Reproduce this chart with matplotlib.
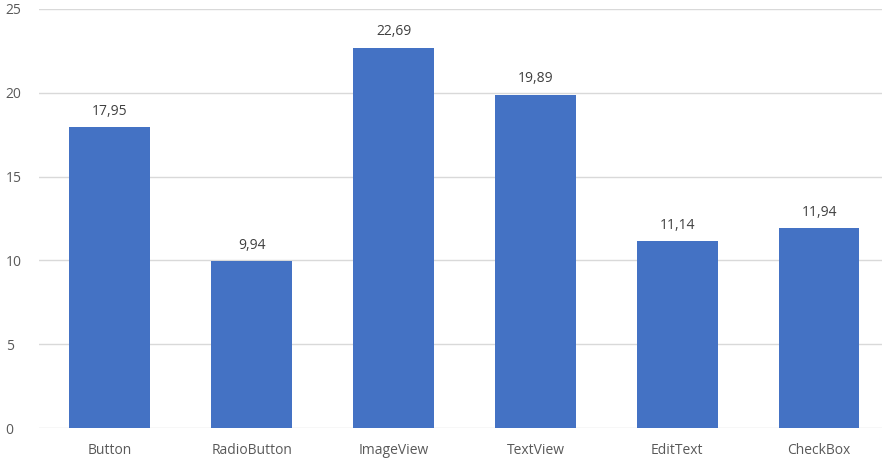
import matplotlib.pyplot as plt

categories = ["Button", "RadioButton", "ImageView", "TextView", "EditText", "CheckBox"]
values = [17.95, 9.94, 22.69, 19.89, 11.14, 11.94]
yticks = [0, 5, 10, 15, 20, 25]

plt.rcParams["font.family"] = ["Open Sans", "DejaVu Sans"]

fig = plt.figure(figsize=(8.82, 4.59), dpi=100)
ax = fig.add_axes([39 / 882, 1 - 428 / 459, 1 - 39 / 882, (428 - 9) / 459])

x = list(range(len(categories)))
bars = ax.bar(x, values, width=0.57, color="#4472C4", zorder=3)

for xi, v in zip(x, values):
    ax.annotate(f"{v:.2f}".replace(".", ","), (xi, v), xytext=(0, 6),
                textcoords="offset points", ha="center", va="bottom",
                fontsize=10, color="#404040")

ax.set_ylim(0, 25)
ax.set_xlim(-0.5, 5.5 - 8 / 142)
ax.set_yticks(yticks)
ax.set_xticks(x)
ax.set_xticklabels(categories)
ax.yaxis.grid(True, color="#D9D9D9", linewidth=1, zorder=0)
for s in ax.spines.values():
    s.set_visible(False)
ax.tick_params(axis="both", length=0, labelsize=10, labelcolor="#595959")
ax.tick_params(axis="y", pad=24)
ax.tick_params(axis="x", pad=11)
for lbl in ax.get_yticklabels():
    lbl.set_horizontalalignment("left")

fig.savefig("out.png", dpi=100)
